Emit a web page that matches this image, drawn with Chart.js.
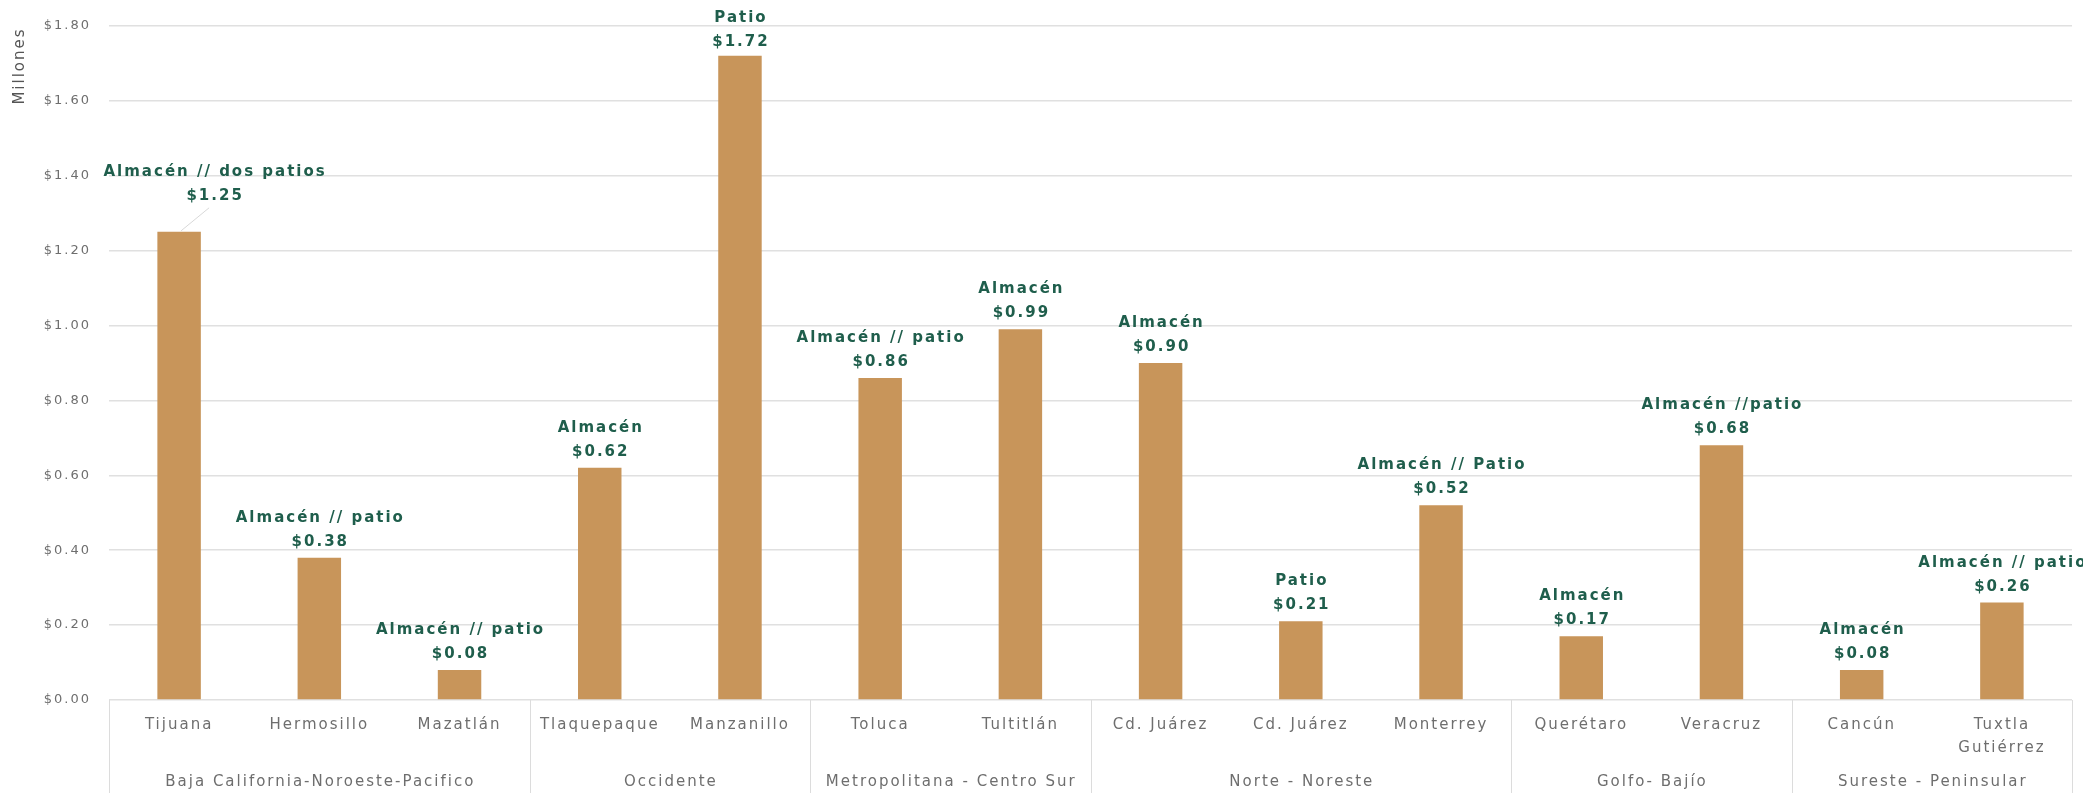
<!DOCTYPE html>
<html>
<head>
<meta charset="utf-8">
<script src="https://cdn.jsdelivr.net/npm/chart.js@4.4.1/dist/chart.umd.min.js"></script>
<style>
  html, body { margin: 0; padding: 0; background: #ffffff; }
  #wrap { width: 2100px; height: 793px; position: relative; }
</style>
</head>
<body>
<div id="wrap"><canvas id="c" width="2100" height="793"></canvas></div>
<script>
// ---- data ----
const categories = [
  'Tijuana', 'Hermosillo', 'Mazatlán', 'Tlaquepaque', 'Manzanillo',
  'Toluca', 'Tultitlán', 'Cd. Juárez', 'Cd. Juárez', 'Monterrey',
  'Querétaro', 'Veracruz', 'Cancún', ['Tuxtla', 'Gutiérrez']
];
const values = [1.25, 0.38, 0.08, 0.62, 1.72, 0.86, 0.99, 0.90, 0.21, 0.52, 0.17, 0.68, 0.08, 0.26];
const facilityTypes = [
  'Almacén // dos patios', 'Almacén // patio', 'Almacén // patio', 'Almacén', 'Patio',
  'Almacén // patio', 'Almacén', 'Almacén', 'Patio', 'Almacén // Patio',
  'Almacén', 'Almacén //patio', 'Almacén', 'Almacén // patio'
];
const groupNames = [
  'Baja California-Noroeste-Pacifico', 'Occidente', 'Metropolitana - Centro Sur',
  'Norte - Noreste', 'Golfo- Bajío', 'Sureste - Peninsular'
];
const groupSizes = [3, 2, 2, 3, 2, 2];
const yTicks = [0, 0.2, 0.4, 0.6, 0.8, 1.0, 1.2, 1.4, 1.6, 1.8];
const yAxisTitle = 'Millones';

// ---- styles ----
const FONT = '"DejaVu Sans", "Open Sans", sans-serif';
const BAR_COLOR = '#C8955A';
const LABEL_COLOR = '#1f5e4c';
const TICK_COLOR = '#6e6e6e';
const GRID_COLOR = '#e0e0e0';

const labelsPlugin = {
  id: 'customLabels',
  beforeDraw(chart) {
    chart.ctx.letterSpacing = '2px';
  },
  afterDatasetsDraw(chart) {
    const ctx = chart.ctx;
    const meta = chart.getDatasetMeta(0);
    ctx.save();
    ctx.beginPath();
    ctx.rect(0, 0, 2083, chart.height);
    ctx.clip();
    ctx.letterSpacing = '2px';
    ctx.textAlign = 'center';
    ctx.textBaseline = 'middle';
    ctx.font = 'bold 15px ' + FONT;
    ctx.fillStyle = LABEL_COLOR;
    meta.data.forEach((bar, i) => {
      let cx = bar.x;
      let valY = bar.y - 16;
      if (i === 0) {
        // callout label moved up/right with leader line
        cx = bar.x + 35;
        valY = bar.y - 36;
        ctx.save();
        ctx.strokeStyle = '#d8d8d8';
        ctx.lineWidth = 1;
        ctx.beginPath();
        ctx.moveTo(bar.x + 2, bar.y - 1);
        ctx.lineTo(bar.x + 30, bar.y - 24);
        ctx.stroke();
        ctx.restore();
      }
      let typeY = valY - 24;
      if (typeY < 18) { const d = 18 - typeY; typeY += d; valY += d; }
      ctx.fillText(facilityTypes[i], cx + 1, typeY);
      ctx.fillText('$' + values[i].toFixed(2), cx + 1, valY);
    });
    ctx.restore();
  },
  afterDraw(chart) {
    const ctx = chart.ctx;
    const xs = chart.scales.x;
    const area = chart.chartArea;
    ctx.save();
    // group separators
    ctx.strokeStyle = '#dcdcdc';
    ctx.lineWidth = 1;
    let idx = 0;
    const bounds = [area.left];
    groupSizes.forEach((n) => {
      idx += n;
      if (idx < categories.length) {
        bounds.push((xs.getPixelForValue(idx - 1) + xs.getPixelForValue(idx)) / 2);
      } else {
        bounds.push(area.right);
      }
    });
    bounds.forEach((bx) => {
      ctx.beginPath();
      ctx.moveTo(Math.round(bx) + 0.5, area.bottom);
      ctx.lineTo(Math.round(bx) + 0.5, chart.height);
      ctx.stroke();
    });
    // group labels
    ctx.letterSpacing = '2px';
    ctx.fillStyle = TICK_COLOR;
    ctx.font = '15px ' + FONT;
    ctx.textAlign = 'center';
    ctx.textBaseline = 'middle';
    groupNames.forEach((g, k) => {
      ctx.fillText(g, (bounds[k] + bounds[k + 1]) / 2 + 1, area.bottom + 82);
    });
    // y axis title
    ctx.save();
    ctx.letterSpacing = '2px';
    ctx.translate(20, 66);
    ctx.rotate(-Math.PI / 2);
    ctx.font = '15px ' + FONT;
    ctx.fillStyle = '#555555';
    ctx.fillText(yAxisTitle, 0, 0);
    ctx.restore();
    ctx.restore();
  }
};

new Chart(document.getElementById('c'), {
  type: 'bar',
  data: {
    labels: categories,
    datasets: [{
      data: values,
      backgroundColor: BAR_COLOR,
      borderWidth: 0,
      barPercentage: 0.31,
      categoryPercentage: 1.0
    }]
  },
  options: {
    responsive: false,
    animation: false,
    devicePixelRatio: 1,
    layout: { padding: { left: 0, right: 28, top: 20, bottom: 0 } },
    plugins: { legend: { display: false }, tooltip: { enabled: false } },
    scales: {
      x: {
        grid: { display: false, drawTicks: false },
        border: { display: false },
        ticks: {
          color: TICK_COLOR,
          font: { family: FONT, size: 15, lineHeight: 1.5 },
          padding: 14,
          maxRotation: 0,
          autoSkip: false
        },
        afterFit(scale) { scale.height = 93; }
      },
      y: {
        min: 0,
        max: 1.8,
        afterBuildTicks(scale) { scale.ticks = yTicks.map(v => ({ value: v })); },
        grid: { color: GRID_COLOR, lineWidth: 1.5, drawTicks: false },
        border: { display: false },
        ticks: {
          color: TICK_COLOR,
          font: { family: FONT, size: 13 },
          padding: 18,
          callback: (v) => '$' + Number(v).toFixed(2)
        },
        afterFit(scale) { scale.width = 109; }
      }
    }
  },
  plugins: [labelsPlugin]
});
</script>
</body>
</html>
